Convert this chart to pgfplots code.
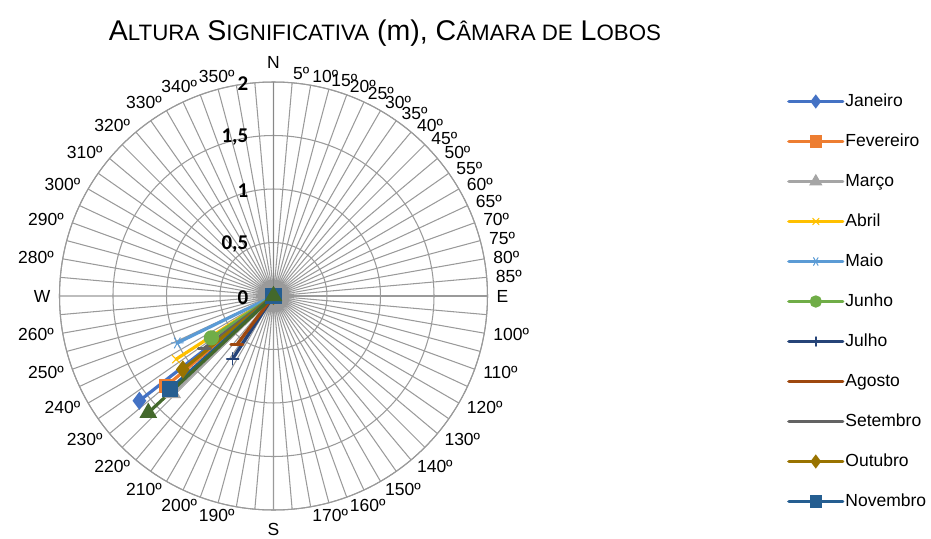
\documentclass[border=0pt]{standalone}
\usepackage{pgfplots}
\pgfplotsset{compat=1.18}
\usepgfplotslibrary{polar}
\usepackage{fontspec}
\setmainfont{Liberation Sans}
\newfontfamily\carlito{Carlito}

\definecolor{gridgray}{HTML}{9A9A9A}
\definecolor{axisgray}{HTML}{888888}
\definecolor{cJan}{HTML}{4472C4}
\definecolor{cFev}{HTML}{ED7D31}
\definecolor{cMar}{HTML}{A5A5A5}
\definecolor{cAbr}{HTML}{FFC000}
\definecolor{cMai}{HTML}{5B9BD5}
\definecolor{cJun}{HTML}{70AD47}
\definecolor{cJul}{HTML}{264478}
\definecolor{cAgo}{HTML}{9E480E}
\definecolor{cSet}{HTML}{636363}
\definecolor{cOut}{HTML}{997300}
\definecolor{cNov}{HTML}{255E91}
\definecolor{cDez}{HTML}{43682B}

\newcommand{\smc}[1]{{\fontsize{22.3}{24}\selectfont #1}}
\newcommand{\lblfont}{\fontsize{17.5}{20}\selectfont}

\pgfplotsset{
  ser/.style={line width=3.2pt, line cap=round, mark size=5.5pt,
    mark options={solid, line width=0.8pt}},
}

\begin{document}
\begin{tikzpicture}
\begin{polaraxis}[
  at={(0,0)}, anchor=center,
  scale only axis, width=428pt, height=428pt,
  xmin=0, xmax=360, ymin=0, ymax=2,
  clip=false,
  xtick={0,5,...,355},
  xticklabels={},
  ytick={0,0.5,1,1.5,2},
  yticklabels={},
  major tick length=0pt,
  grid=major,
  major grid style={draw=gridgray, line width=1.05pt},
  axis line style={draw=gridgray, line width=1.05pt},
  legend style={draw=none, fill=none,
    at={(axis description cs:0.5,0.5)}, anchor=west,
    xshift=513.5pt, yshift=-5.5pt, inner sep=0pt,
    row sep=22pt, column sep=0pt, font=\lblfont,
    nodes={inner sep=1pt, text height=12.5pt, text depth=3.5pt}},
  legend cell align=left,
  legend image code/.code={
    \draw[mark size=4.5pt, mark repeat=2, mark phase=2] plot coordinates {(0pt,0pt) (27pt,0pt) (54pt,0pt)};},
]
\coordinate (O) at (axis cs:0,0);
% value axis along the north spoke
\draw[axisgray, line width=1.8pt] (axis cs:90,0) -- (axis cs:90,2);

% each month: direction (bearing, degrees from N) and significant height (m)
\addplot[ser, cJan, mark=diamond*, mark size=6.5pt, mark options={fill=cJan}]
  table[x expr=90-\thisrow{dir}, y=hs] {
dir hs
232 0
232 1.59
};
\addlegendentry{Janeiro}
\addplot[ser, cFev, mark=square*, mark options={fill=cFev}]
  table[x expr=90-\thisrow{dir}, y=hs] {
dir hs
230 0
230 1.31
};
\addlegendentry{Fevereiro}
\addplot[ser, cMar, mark=triangle*, mark size=6.5pt, mark options={fill=cMar}]
  table[x expr=90-\thisrow{dir}, y=hs] {
dir hs
226 0
226 1.31
};
\addlegendentry{Março}
\addplot[ser, cAbr, mark=x, mark size=5.5pt, mark options={line width=1pt}]
  table[x expr=90-\thisrow{dir}, y=hs] {
dir hs
237 0
237 1.085
};
\addlegendentry{Abril}
\addplot[ser, cMai, mark=asterisk, mark size=6pt, mark options={line width=1pt, rotate=90}]
  table[x expr=90-\thisrow{dir}, y=hs] {
dir hs
244 0
244 1.00
};
\addlegendentry{Maio}
\addplot[ser, cJun, mark=*, mark size=6pt, mark options={fill=cJun}]
  table[x expr=90-\thisrow{dir}, y=hs] {
dir hs
236 0
236 0.70
};
\addlegendentry{Junho}
\addplot[ser, cJul, mark=+, mark size=6pt, mark options={line width=1.5pt}]
  table[x expr=90-\thisrow{dir}, y=hs] {
dir hs
213 0
213 0.70
};
\addlegendentry{Julho}
\addplot[ser, cAgo, mark=-, mark size=6pt, mark options={line width=3pt}]
  table[x expr=90-\thisrow{dir}, y=hs] {
dir hs
217 0
217 0.57
};
\addlegendentry{Agosto}
\addplot[ser, cSet, mark=-, mark size=6pt, mark options={line width=3pt}]
  table[x expr=90-\thisrow{dir}, y=hs] {
dir hs
233 0
233 0.81
};
\addlegendentry{Setembro}
\addplot[ser, cOut, mark=diamond*, mark size=6.5pt, mark options={fill=cOut}]
  table[x expr=90-\thisrow{dir}, y=hs] {
dir hs
231 0
231 1.09
};
\addlegendentry{Outubro}
\addplot[ser, cNov, mark=square*, mark size=6.5pt, mark options={fill=cNov}]
  table[x expr=90-\thisrow{dir}, y=hs] {
dir hs
228 0
228 1.30
};
\addlegendentry{Novembro}
\addplot[ser, cDez, mark=triangle*, mark size=7pt, mark options={fill=cDez}, forget plot]
  table[x expr=90-\thisrow{dir}, y=hs] {
dir hs
227 0
227 1.60
};

% direction labels around the outer circle (bearing / text / anchor / gap)
\foreach \b/\t/\a/\g in {
    0/N/south/13, 5/5º/west/9, 10/10º/west/9, 15/15º/west/9, 20/20º/west/9,
    25/25º/west/9, 30/30º/west/9, 35/35º/west/9, 40/40º/west/9, 45/45º/west/9,
    50/50º/west/9, 55/55º/west/9, 60/60º/west/9, 65/65º/west/9, 70/70º/west/9,
    75/75º/west/9, 80/80º/west/9, 85/85º/west/9, 90/E/west/9,
    100/100º/west/9, 110/110º/west/9, 120/120º/west/9, 130/130º/west/9,
    140/140º/west/9, 150/150º/west/9, 160/160º/west/9, 170/170º/west/9,
    180/S/north/13,
    190/190º/east/9, 200/200º/east/9, 210/210º/east/9, 220/220º/east/9,
    230/230º/east/9, 240/240º/east/9, 250/250º/east/9, 260/260º/east/9,
    270/W/east/9,
    280/280º/east/9, 290/290º/east/9, 300/300º/east/9, 310/310º/east/9,
    320/320º/east/9, 330/330º/east/9, 340/340º/east/9, 350/350º/east/9}{
  \pgfmathsetmacro\m{90-\b}
  \edef\tmp{\noexpand\node[anchor=\a, inner sep=0pt, font=\noexpand\lblfont]
    at ([shift={(\m:\g pt)}]axis cs:\m,2) {\t};}
  \tmp
}

% radial value labels
\foreach \v/\t in {0/0, 0.5/{0,5}, 1/1, 1.5/{1,5}, 2/2}{
  \edef\tmp{\noexpand\node[anchor=east, inner sep=0pt, xshift=-25pt, yshift=-1.5pt,
    font=\noexpand\carlito\noexpand\bfseries\noexpand\fontsize{21}{24}\noexpand\selectfont]
    at (axis cs:90,\v) {\t};}
  \tmp
}
\end{polaraxis}

\node[anchor=base] at ([shift={(111.5pt,255pt)}]O)
  {\fontsize{28.5}{30}\selectfont A\smc{LTURA} S\smc{IGNIFICATIVA} (m), C\smc{ÂMARA DE} L\smc{OBOS}};

\pgfresetboundingbox
\path[use as bounding box] ([shift={(-273.5pt,-242pt)}]O) rectangle ([shift={(657.5pt,296pt)}]O);
\end{tikzpicture}
\end{document}
